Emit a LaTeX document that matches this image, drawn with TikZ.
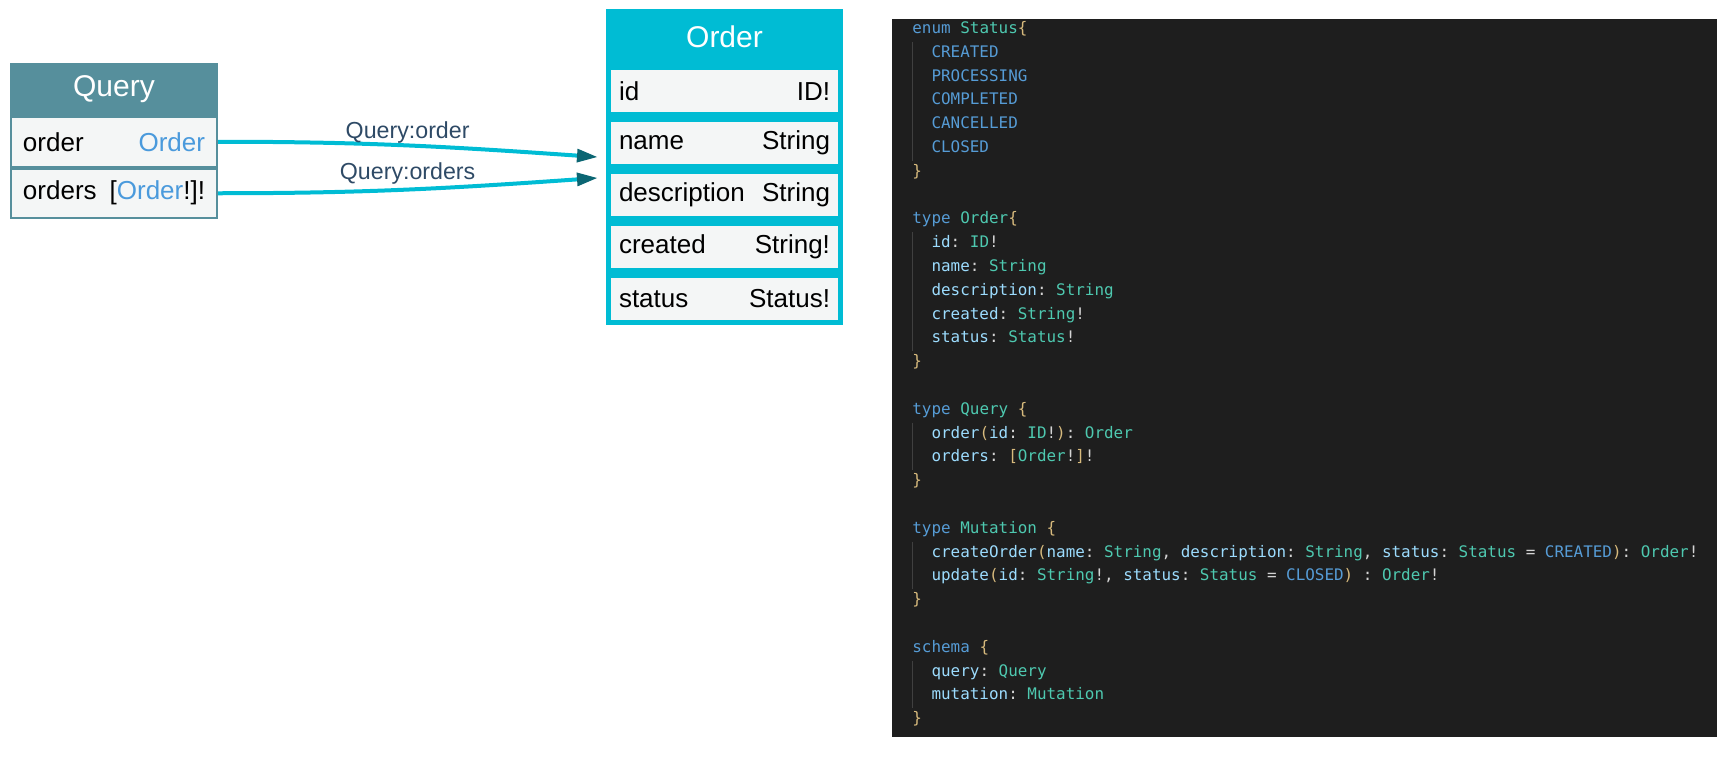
\documentclass[tikz,border=0pt]{standalone}
\usepackage{fontspec}
\setmainfont{Liberation Sans}
\setmonofont{DejaVu Sans Mono}
\usetikzlibrary{positioning,arrows.meta}

\definecolor{querycol}{HTML}{568F9C}
\definecolor{ordercyan}{HTML}{00BCD4}
\definecolor{rowbg}{HTML}{F4F6F6}
\definecolor{typeblue}{HTML}{4A9ADC}
\definecolor{tipcol}{HTML}{0B6673}
\definecolor{labelcol}{HTML}{2E4A66}
\definecolor{codebg}{HTML}{1E1E1E}
\definecolor{guidecol}{HTML}{404040}
\definecolor{gqplain}{HTML}{D4D4D4}
\definecolor{gqblue}{HTML}{569CD6}
\definecolor{gqteal}{HTML}{4EC9B0}
\definecolor{gqlight}{HTML}{9CDCFE}
\definecolor{gqtan}{HTML}{D7BA7D}

\newcommand\gqkw[1]{\textcolor{gqblue}{#1}}
\newcommand\gqval[1]{\textcolor{gqblue}{#1}}
\newcommand\gqtype[1]{\textcolor{gqteal}{#1}}
\newcommand\gqfield[1]{\textcolor{gqlight}{#1}}
\newcommand\gqbr[1]{\textcolor{gqtan}{#1}}
\newcommand\gqin{\phantom{xx}}

\begin{document}
\begin{tikzpicture}[
     qtitle/.style = {draw=querycol, fill=querycol, rectangle, line width=1pt, text=white,
      minimum width=103pt, minimum height=25.5pt, font=\fontsize{15}{18}\selectfont},
     qfield/.style = {draw=querycol, fill=rowbg, rectangle, line width=1pt, text width=91pt,
      inner xsep=6pt, minimum height=24.75pt, font=\fontsize{13}{15}\selectfont},
     otitle/.style = {draw=ordercyan, fill=ordercyan, rectangle, line width=2.5pt, text=white,
      minimum width=116pt, minimum height=25.5pt, font=\fontsize{15}{18}\selectfont},
     ofield/.style = {draw=ordercyan, fill=rowbg, rectangle, line width=2.5pt, text width=105.5pt,
      inner xsep=5.25pt, minimum height=23.5pt, font=\fontsize{13}{15}\selectfont},
     link/.style = {draw=ordercyan, line width=2pt,
      -{Triangle[length=10pt,width=7pt,color=tipcol,line width=0pt]}},
     elabel/.style = {text=labelcol, font=\fontsize{11.6}{14}\selectfont},
     codepanel/.style = {fill=codebg, inner sep=0pt, minimum width=412.5pt, minimum height=359pt},
     codetext/.style = {align=left, inner sep=0pt, text=gqplain,
      font=\ttfamily\fontsize{7.96}{11.9}\selectfont\frenchspacing},
     guide/.style = {draw=guidecol, line width=0.5pt}
    ]
    \useasboundingbox (0pt,0pt) rectangle (868pt,-380pt);

    \node [qtitle] (qhead) at (57pt,-44.75pt) {Query};
    \node [qfield, node distance=26.125pt, below of=qhead] (qorder) {order\hfill\textcolor{typeblue}{Order}};
    \node [qfield, node distance=25.75pt, below of=qorder] (qorders) {orders\hfill[\textcolor{typeblue}{Order}!]!};

    \node [otitle] (ohead) at (362.25pt,-18.5pt) {Order};
    \node [ofield, node distance=27pt, below of=ohead] (oid) {id\hfill ID!};
    \node [ofield, node distance=26pt, below of=oid] (oname) {name\hfill String};
    \node [ofield, node distance=26pt, below of=oname] (odesc) {description\hfill String};
    \node [ofield, node distance=26pt, below of=odesc] (ocreated) {created\hfill String!};
    \node [ofield, node distance=26pt, below of=ocreated] (ostatus) {status\hfill Status!};

    \draw[link] (qorder.east) to[out=0,in=176] node [elabel, above=-3.3pt] (lorder) {Query:order} ([xshift=-4.5pt,yshift=-7pt]oname.west);
    \draw[link] (qorders.east) to[out=0,in=184] node [elabel, above=-1.7pt] (lorders) {Query:orders} ([xshift=-4.5pt,yshift=8.5pt]odesc.west);

    \node [codepanel, anchor=north west] (panel) at (446pt,-9.5pt) {};
    \foreach \a/\b in {1/5,9/13,17/18,22/23,27/28}
      \draw[guide] (456.3pt,{-9.05pt-11.9pt*\a}) -- (456.3pt,{-20.95pt-11.9pt*\b});
    \node [codetext, anchor=base west] (code) at (456pt,-361.85pt) {%
\gqkw{enum} \gqtype{Status}\gqbr{\{}\\
\gqin\gqval{CREATED}\\
\gqin\gqval{PROCESSING}\\
\gqin\gqval{COMPLETED}\\
\gqin\gqval{CANCELLED}\\
\gqin\gqval{CLOSED}\\
\gqbr{\}}\\
\mbox{}\\
\gqkw{type} \gqtype{Order}\gqbr{\{}\\
\gqin\gqfield{id}: \gqtype{ID}!\\
\gqin\gqfield{name}: \gqtype{String}\\
\gqin\gqfield{description}: \gqtype{String}\\
\gqin\gqfield{created}: \gqtype{String}!\\
\gqin\gqfield{status}: \gqtype{Status}!\\
\gqbr{\}}\\
\mbox{}\\
\gqkw{type} \gqtype{Query} \gqbr{\{}\\
\gqin\gqfield{order}\gqbr{(}\gqfield{id}: \gqtype{ID}!\gqbr{)}: \gqtype{Order}\\
\gqin\gqfield{orders}: \gqbr{[}\gqtype{Order}!\gqbr{]}!\\
\gqbr{\}}\\
\mbox{}\\
\gqkw{type} \gqtype{Mutation} \gqbr{\{}\\
\gqin\gqfield{createOrder}\gqbr{(}\gqfield{name}: \gqtype{String}, \gqfield{description}: \gqtype{String}, \gqfield{status}: \gqtype{Status} = \gqval{CREATED}\gqbr{)}: \gqtype{Order}!\\
\gqin\gqfield{update}\gqbr{(}\gqfield{id}: \gqtype{String}!, \gqfield{status}: \gqtype{Status} = \gqval{CLOSED}\gqbr{)} : \gqtype{Order}!\\
\gqbr{\}}\\
\mbox{}\\
\gqkw{schema} \gqbr{\{}\\
\gqin\gqfield{query}: \gqtype{Query}\\
\gqin\gqfield{mutation}: \gqtype{Mutation}\\
\gqbr{\}}};

\end{tikzpicture}
\end{document}
